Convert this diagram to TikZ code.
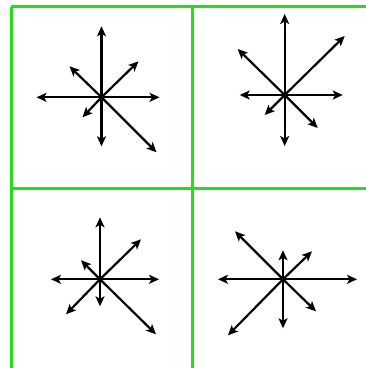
\documentclass[tikz,border=0pt]{standalone}
\usetikzlibrary{arrows.meta}
\definecolor{gridgreen}{RGB}{34,224,20}
\begin{document}
\begin{tikzpicture}[x=1pt,y=-1pt,
  gridline/.style={draw=gridgreen,line width=3pt},
  ray/.style={draw=black,line width=2.2pt,-{Stealth[length=10pt,width=9pt,inset=2.5pt]}}]
\useasboundingbox (0,0) rectangle (366,368);
% grid
\coordinate (g1) at (11,6.5);
\coordinate (g2) at (366,6.5);
\coordinate (g3) at (11,188);
\coordinate (g4) at (366,188);
\coordinate (g5) at (11,368);
\coordinate (g6) at (193,6.5);
\coordinate (g7) at (193,368);
\draw[gridline] (g1) -- (g2);
\draw[gridline] (g3) -- (g4);
\draw[gridline] (g1) -- (g5);
\draw[gridline] (g6) -- (g7);
% panel centres
\coordinate (c1) at (101.5,97.3);
\coordinate (c2) at (284.7,95);
\coordinate (c3) at (100,279.3);
\coordinate (c4) at (283,279.3);
% panel 1
\foreach \n/\dx/\dy in {a/0/-71, b/0/49, c/-65/0, d/58/0, e/37/-36, f/-32/-31, g/-19/20, h/55/55}
  \draw[ray] (c1) -- ([shift={(\dx,\dy)}]c1) coordinate (p1\n);
% panel 2
\foreach \n/\dx/\dy in {a/0/-81, b/0/51, c/-45/0, d/58/0, e/60/-59, f/-47/-46, g/-20/20, h/33/33}
  \draw[ray] (c2) -- ([shift={(\dx,\dy)}]c2) coordinate (p2\n);
% panel 3
\foreach \n/\dx/\dy in {a/0/-62, b/0/27, c/-49/0, d/59/0, e/41/-40, f/-19/-19, g/-34/35, h/56/55}
  \draw[ray] (c3) -- ([shift={(\dx,\dy)}]c3) coordinate (p3\n);
% panel 4
\foreach \n/\dx/\dy in {a/0/-29, b/0/49, c/-65/0, d/74/0, e/29/-28, f/-48/-48, g/-55/56, h/33/32}
  \draw[ray] (c4) -- ([shift={(\dx,\dy)}]c4) coordinate (p4\n);
\end{tikzpicture}
\end{document}
